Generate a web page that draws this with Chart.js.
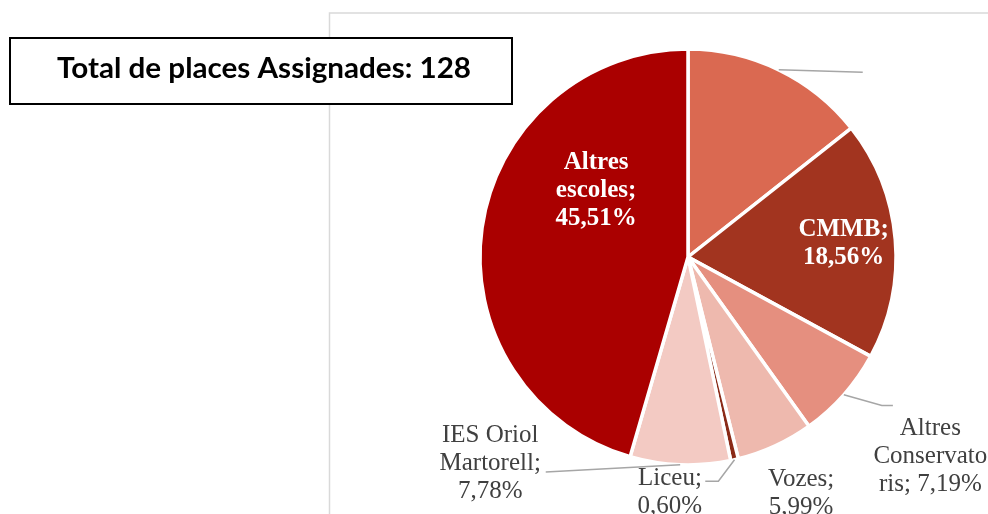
<!DOCTYPE html>
<html>
<head>
<meta charset="utf-8">
<script src="https://cdn.jsdelivr.net/npm/chart.js@4.4.1/dist/chart.umd.min.js"></script>
<style>
    html, body { margin: 0; padding: 0; background: #fff; overflow: hidden; }
</style>
</head>
<body>
<canvas id="grafica" width="988" height="514"></canvas>
<script>
// Dades del gràfic (percentatges llegits de la imatge)
const categories = ['', 'CMMB', 'Altres Conservatoris', 'Vozes', 'Liceu', 'IES Oriol Martorell', 'Altres escoles'];
const percentatges = [14.37, 18.56, 7.19, 5.99, 0.60, 7.78, 45.51];
const totalPlaces = 128;
const titolCaixa = 'Total de places Assignades: ' + totalPlaces;

const colors = ['#DA6951', '#A2341F', '#E58F7F', '#EEB9AE', '#8A2A17', '#F3CAC3', '#AA0000'];

// Posició de cada etiqueta, en unitats del radi respecte al centre del pastís
const etiquetes = [
    { show: false, leader: [[0.84, -0.888]] },
    { inside: true, pos: [0.748, -0.066], maxW: 115 },
    { pos: [1.165, 0.961], maxW: 118, leader: [[0.932, 0.714], [0.985, 0.714]] },
    { pos: [0.544, 1.138], maxW: 90 },
    { pos: [-0.087, 1.133], maxW: 90, leader: [[0.146, 1.078], [0.083, 1.078]] },
    { pos: [-0.951, 0.993], maxW: 112, leader: [[-0.684, 1.034]] },
    { inside: true, pos: [-0.442, -0.320], maxW: 90 },
];

function formatPct(v) {
    return v.toFixed(2).replace('.', ',') + '%';
}

// parteix el text en línies; si una paraula no hi cap, la talla per lletres
function wrapText(ctx, text, maxW) {
    const words = text.split(' ');
    const lines = [];
    let cur = '';
    words.forEach(w => {
        const test = cur ? cur + ' ' + w : w;
        if (ctx.measureText(test).width <= maxW) {
            cur = test;
            return;
        }
        if (cur) lines.push(cur);
        cur = '';
        let rest = w;
        while (ctx.measureText(rest).width > maxW) {
            let n = rest.length;
            while (n > 1 && ctx.measureText(rest.slice(0, n)).width > maxW) n--;
            lines.push(rest.slice(0, n));
            rest = rest.slice(n);
        }
        cur = rest;
    });
    if (cur) lines.push(cur);
    return lines;
}

const etiquetesPlugin = {
    id: 'etiquetes',
    beforeDraw(chart) {
        const c = chart.ctx;
        c.save();
        c.strokeStyle = '#D9D9D9';
        c.lineWidth = 1.5;
        c.beginPath();
        c.moveTo(329.5, 514);
        c.lineTo(329.5, 13);
        c.lineTo(988, 13);
        c.stroke();
        c.restore();
    },
    afterDatasetsDraw(chart) {
        const c = chart.ctx;
        const arcs = chart.getDatasetMeta(0).data;
        c.save();
        arcs.forEach((arc, i) => {
            const cfg = etiquetes[i];
            const r = arc.outerRadius;
            const cx = arc.x, cy = arc.y;
            const mid = (arc.startAngle + arc.endAngle) / 2;
            if (cfg.leader) {
                c.strokeStyle = '#A6A6A6';
                c.lineWidth = 1.5;
                c.beginPath();
                c.moveTo(cx + r * Math.cos(mid), cy + r * Math.sin(mid));
                cfg.leader.forEach(p => c.lineTo(cx + p[0] * r, cy + p[1] * r));
                c.stroke();
            }
            if (cfg.show === false) return;
            c.font = cfg.inside ? 'bold 25px "Liberation Serif"' : '25px "Liberation Serif"';
            c.fillStyle = cfg.inside ? '#FFFFFF' : '#404040';
            c.textAlign = 'center';
            c.textBaseline = 'middle';
            const text = categories[i] + '; ' + formatPct(percentatges[i]);
            const lines = wrapText(c, text, cfg.maxW);
            const lh = 28;
            const x = cx + cfg.pos[0] * r;
            const y0 = cy + cfg.pos[1] * r - (lines.length - 1) * lh / 2;
            lines.forEach((ln, k) => c.fillText(ln, x, y0 + k * lh));
        });
        c.restore();
    },
    afterDraw(chart) {
        const c = chart.ctx;
        c.save();
        c.fillStyle = '#FFFFFF';
        c.fillRect(10, 38, 502, 66);
        c.strokeStyle = '#000000';
        c.lineWidth = 2;
        c.strokeRect(10, 38, 502, 66);
        c.font = 'bold 29px Lato';
        c.fillStyle = '#000000';
        c.textBaseline = 'alphabetic';
        c.textAlign = 'left';
        const w = c.measureText(titolCaixa).width;
        const sx = 414 / w;
        c.translate(57, 78);
        c.scale(sx, 1);
        c.fillText(titolCaixa, 0, 0);
        c.restore();
    }
};

const ctx = document.getElementById('grafica');
new Chart(ctx, {
    type: 'pie',
    data: {
        labels: categories,
        datasets: [{
            data: percentatges,
            backgroundColor: colors,
            borderColor: '#FFFFFF',
            borderWidth: 3.5,
        }]
    },
    options: {
        responsive: false,
        animation: false,
        radius: 208,
        layout: { padding: { left: 468, right: 80, top: 37, bottom: 37 } },
        plugins: {
            legend: { display: false },
            tooltip: { enabled: false }
        }
    },
    plugins: [etiquetesPlugin]
});
</script>
</body>
</html>
